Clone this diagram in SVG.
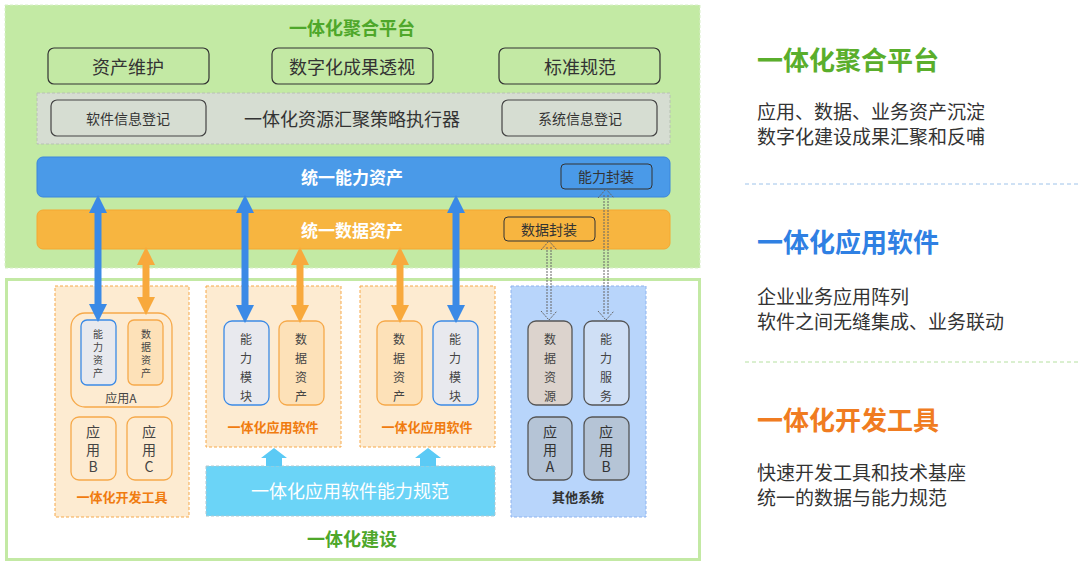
<svg xmlns="http://www.w3.org/2000/svg" width="1080" height="563" viewBox="0 0 1080 563">
<style>
text{font-family:"Noto Sans CJK SC","Liberation Sans",sans-serif;text-anchor:middle;dominant-baseline:central}
.top{fill:#c3e9a4;stroke:#333;stroke-width:1.2}
.sm{font-size:14px;fill:#333}
.vt{font-size:12px;fill:#444}
.vs{font-size:10px;fill:#444}
.rt{text-anchor:start;font-size:19px;fill:#333}
.col{fill:#fdebd1;stroke:#f6a94a;stroke-dasharray:3 2}
</style>
<defs>
<marker id="ad" viewBox="0 0 10 10" refX="5" refY="5" markerWidth="2.6" markerHeight="2.6" orient="auto-start-reverse"><path d="M0,0L10,5L0,10z" fill="context-stroke"/></marker>
</defs>
<rect width="1080" height="563" fill="#fff"/>
<g id="platform">
<rect x="5" y="5" width="695" height="263" fill="#c3eaa4" stroke="#d8efc8" stroke-dasharray="3 2"/>
<text x="352" y="27" font-size="18" font-weight="bold" fill="#4ea72a">一体化聚合平台</text>
</g>
<g id="n1"><rect x="48" y="48" width="161" height="36" rx="6" class="top"/><text x="128" y="66" font-size="18" fill="#333">资产维护</text></g>
<g id="n2"><rect x="272" y="48" width="161" height="36" rx="6" class="top"/><text x="352" y="66" font-size="18" fill="#333">数字化成果透视</text></g>
<g id="n3"><rect x="499" y="48" width="161" height="36" rx="6" class="top"/><text x="580" y="66" font-size="18" fill="#333">标准规范</text></g>
<g id="executor">
<rect x="37" y="93" width="633" height="51" fill="#d6ddd2" stroke="#b8c0b5" stroke-dasharray="3 2"/>
<text x="352" y="118" font-size="18" fill="#333">一体化资源汇聚策略执行器</text>
</g>
<g id="n4"><rect x="51" y="100" width="155" height="36" rx="6" fill="#d6ddd2" stroke="#444" stroke-width="1.2"/><text x="128" y="118" class="sm">软件信息登记</text></g>
<g id="n5"><rect x="502" y="100" width="155" height="36" rx="6" fill="#d6ddd2" stroke="#444" stroke-width="1.2"/><text x="580" y="118" class="sm">系统信息登记</text></g>
<g id="cap">
<rect x="37" y="157" width="633" height="40" rx="6" fill="#4a9ae8" stroke="#3a86dc"/>
<text x="352" y="176" font-size="17" font-weight="bold" fill="#fff">统一能力资产</text>
<rect x="561" y="164" width="91" height="25" rx="4" fill="#4a9ae8" stroke="#333"/>
<text x="606" y="176" class="sm">能力封装</text>
</g>
<g id="data">
<rect x="37" y="210" width="633" height="39" rx="6" fill="#f7b540" stroke="#f5a830"/>
<text x="352" y="229" font-size="17" font-weight="bold" fill="#fff">统一数据资产</text>
<rect x="504" y="217" width="91" height="24" rx="4" fill="#f7b540" stroke="#333"/>
<text x="549" y="229" class="sm">数据封装</text>
</g>
<g id="build">
<rect x="6.5" y="279.5" width="693" height="280" fill="#fff" stroke="#c3e9a4" stroke-width="3"/>
<text x="352" y="538" font-size="18" font-weight="bold" fill="#4ea72a">一体化建设</text>
</g>
<g id="devtool">
<rect x="55" y="286" width="134" height="231" class="col"/>
<rect x="71" y="313" width="101" height="94" rx="14" fill="none" stroke="#f6a94a" stroke-width="1.3"/>
<rect x="81" y="320" width="35" height="65" rx="6" fill="#e8e9ee" stroke="#3b8ae6" stroke-width="1.3"/>
<text class="vs" x="98" y="333">能</text><text class="vs" x="98" y="346">力</text><text class="vs" x="98" y="359">资</text><text class="vs" x="98" y="372">产</text>
<rect x="128" y="320" width="35" height="65" rx="6" fill="#fde1b8" stroke="#f6a94a" stroke-width="1.3"/>
<text class="vs" x="146" y="333">数</text><text class="vs" x="146" y="346">据</text><text class="vs" x="146" y="359">资</text><text class="vs" x="146" y="372">产</text>
<text x="121" y="397" font-size="12" fill="#444">应用A</text>
<rect x="71" y="417" width="45" height="63" rx="8" fill="#fdebd1" stroke="#f6a94a" stroke-width="1.3"/>
<text x="93" y="431" font-size="14" fill="#444">应</text><text x="93" y="449" font-size="14" fill="#444">用</text><text x="93" y="466" font-size="14" fill="#444">B</text>
<rect x="127" y="417" width="45" height="63" rx="8" fill="#fdebd1" stroke="#f6a94a" stroke-width="1.3"/>
<text x="149" y="431" font-size="14" fill="#444">应</text><text x="149" y="449" font-size="14" fill="#444">用</text><text x="149" y="466" font-size="14" fill="#444">C</text>
<text x="122" y="496" font-size="13" font-weight="bold" fill="#f07c10">一体化开发工具</text>
</g>
<g id="app1">
<rect x="206" y="286" width="135" height="161" class="col"/>
<rect x="224" y="321" width="45" height="84" rx="8" fill="#e8e9ee" stroke="#3b8ae6" stroke-width="1.3"/>
<text class="vt" x="246" y="338">能</text><text class="vt" x="246" y="357">力</text><text class="vt" x="246" y="376">模</text><text class="vt" x="246" y="395">块</text>
<rect x="279" y="321" width="45" height="84" rx="8" fill="#fde1b8" stroke="#f6a94a" stroke-width="1.3"/>
<text class="vt" x="301" y="338">数</text><text class="vt" x="301" y="357">据</text><text class="vt" x="301" y="376">资</text><text class="vt" x="301" y="395">产</text>
<text x="273" y="426" font-size="13" font-weight="bold" fill="#f07c10">一体化应用软件</text>
</g>
<g id="app2">
<rect x="360" y="286" width="135" height="161" class="col"/>
<rect x="377" y="321" width="45" height="84" rx="8" fill="#fde1b8" stroke="#f6a94a" stroke-width="1.3"/>
<text class="vt" x="399" y="338">数</text><text class="vt" x="399" y="357">据</text><text class="vt" x="399" y="376">资</text><text class="vt" x="399" y="395">产</text>
<rect x="433" y="321" width="45" height="84" rx="8" fill="#e8e9ee" stroke="#3b8ae6" stroke-width="1.3"/>
<text class="vt" x="455" y="338">能</text><text class="vt" x="455" y="357">力</text><text class="vt" x="455" y="376">模</text><text class="vt" x="455" y="395">块</text>
<text x="427" y="426" font-size="13" font-weight="bold" fill="#f07c10">一体化应用软件</text>
</g>
<g id="spec">
<rect x="206" y="466" width="289" height="50" fill="#6bd4f7" stroke="#b0c8d0" stroke-dasharray="3 2"/>
<text x="350" y="490" font-size="18" fill="#fff">一体化应用软件能力规范</text>
</g>
<g id="other">
<rect x="511" y="286" width="135" height="231" fill="#b8d5fb" stroke="#8fb4ef" stroke-dasharray="3 2"/>
<rect x="528" y="321" width="44" height="84" rx="8" fill="#dcd3cd" stroke="#555" stroke-width="1.3"/>
<text class="vt" x="550" y="338">数</text><text class="vt" x="550" y="357">据</text><text class="vt" x="550" y="376">资</text><text class="vt" x="550" y="395">源</text>
<rect x="584" y="321" width="45" height="84" rx="8" fill="#cfdff5" stroke="#555" stroke-width="1.3"/>
<text class="vt" x="606" y="338">能</text><text class="vt" x="606" y="357">力</text><text class="vt" x="606" y="376">服</text><text class="vt" x="606" y="395">务</text>
<rect x="528" y="417" width="44" height="63" rx="8" fill="#b5c4d6" stroke="#555" stroke-width="1.3"/>
<text x="550" y="431" font-size="14" fill="#333">应</text><text x="550" y="449" font-size="14" fill="#333">用</text><text x="550" y="466" font-size="14" fill="#333">A</text>
<rect x="584" y="417" width="45" height="63" rx="8" fill="#b5c4d6" stroke="#555" stroke-width="1.3"/>
<text x="606" y="431" font-size="14" fill="#333">应</text><text x="606" y="449" font-size="14" fill="#333">用</text><text x="606" y="466" font-size="14" fill="#333">B</text>
<text x="578" y="496" font-size="13" font-weight="bold" fill="#333">其他系统</text>
</g>
<g id="connectors">
<g stroke="#3b8ae6" stroke-width="7" marker-start="url(#ad)" marker-end="url(#ad)">
<line x1="98" y1="204" x2="98" y2="313"/><line x1="245" y1="204" x2="245" y2="314"/><line x1="456" y1="204" x2="456" y2="314"/>
</g>
<g stroke="#f8a93c" stroke-width="7" marker-start="url(#ad)" marker-end="url(#ad)">
<line x1="146" y1="256" x2="146" y2="306"/><line x1="300" y1="256" x2="300" y2="314"/><line x1="400" y1="256" x2="400" y2="314"/>
</g>
<g fill="#5bcaf5">
<path d="M266,466V458H261L274,448L287,458H282V466z"/>
<path d="M420,466V458H415L428,448L441,458H436V466z"/>
</g>
<g fill="none" stroke="#666" stroke-dasharray="2 1" stroke-width="1">
<line x1="547" y1="247" x2="547" y2="314"/><line x1="551" y1="247" x2="551" y2="314"/>
<line x1="604" y1="195" x2="604" y2="314"/><line x1="608" y1="195" x2="608" y2="314"/>
<path d="M541,250L549,241L557,250M541,311L549,320L557,311"/>
<path d="M598,198L606,189L614,198M598,311L606,320L614,311"/>
</g>
</g>
<g id="legend">
<text x="757" y="58" class="rt" font-weight="bold" style="font-size:26px;fill:#5aae2c">一体化聚合平台</text>
<text x="757" y="110" class="rt">应用、数据、业务资产沉淀</text>
<text x="757" y="135" class="rt">数字化建设成果汇聚和反哺</text>
<line x1="745" y1="184" x2="1078" y2="184" stroke="#9ec3ea" stroke-dasharray="4 3"/>
<text x="757" y="240" class="rt" font-weight="bold" style="font-size:26px;fill:#2f80e3">一体化应用软件</text>
<text x="757" y="295" class="rt">企业业务应用阵列</text>
<text x="757" y="320" class="rt">软件之间无缝集成、业务联动</text>
<line x1="745" y1="362" x2="1078" y2="362" stroke="#b5e0a0" stroke-dasharray="4 3"/>
<text x="757" y="418" class="rt" font-weight="bold" style="font-size:26px;fill:#f07c21">一体化开发工具</text>
<text x="757" y="471" class="rt">快速开发工具和技术基座</text>
<text x="757" y="496" class="rt">统一的数据与能力规范</text>
</g>
</svg>
